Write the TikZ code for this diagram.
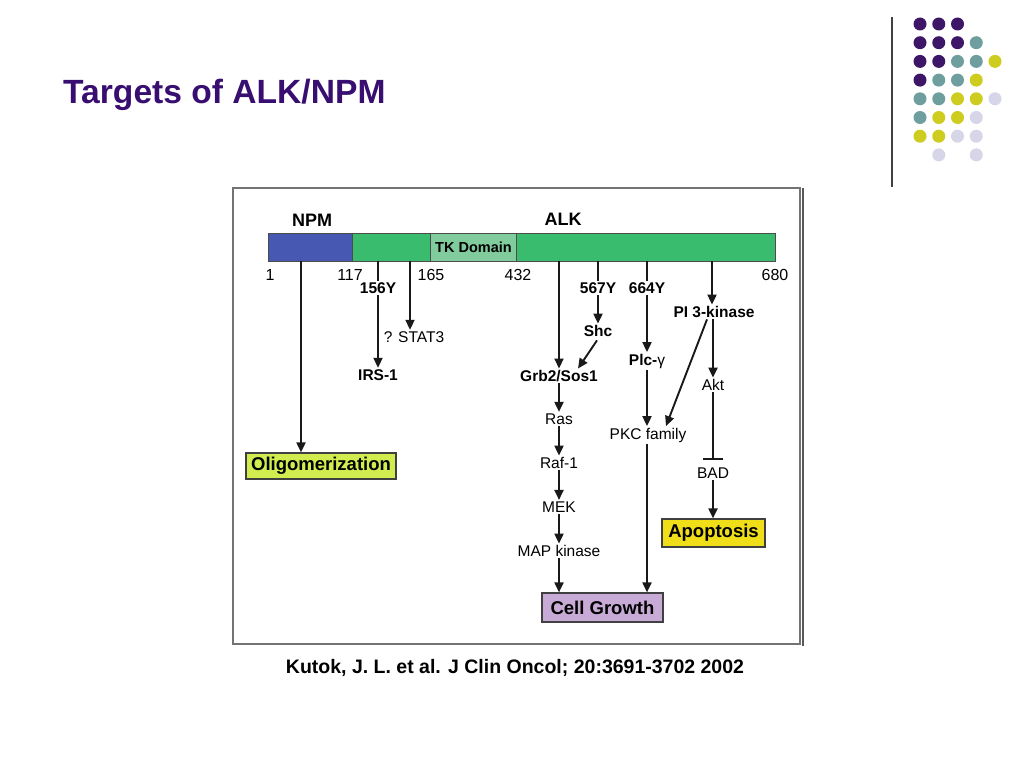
\documentclass[tikz,border=0pt]{standalone}
\usepackage{fontspec}
\setmainfont{Liberation Sans}
\usetikzlibrary{arrows.meta,calc}
\definecolor{titlepurple}{RGB}{56,14,112}
\definecolor{dotP}{RGB}{62,22,104}
\definecolor{dotT}{RGB}{110,158,158}
\definecolor{dotY}{RGB}{206,204,30}
\definecolor{dotL}{RGB}{214,214,232}
\definecolor{npmblue}{RGB}{70,88,178}
\definecolor{alkgreen}{RGB}{58,188,110}
\definecolor{tkgreen}{RGB}{128,204,156}
\definecolor{oligfill}{RGB}{208,236,78}
\definecolor{apopfill}{RGB}{240,222,24}
\definecolor{growfill}{RGB}{200,170,214}
\tikzset{
  lbl/.style={inner sep=1.5pt, font=\fontsize{15.5}{17}\selectfont\bfseries},
  reg/.style={inner sep=1.5pt, font=\fontsize{15.5}{17}\selectfont},
  num/.style={inner sep=0pt, anchor=base, font=\fontsize{16}{18}\selectfont},
  outcome/.style={draw=black!75, line width=1.2pt, inner sep=0pt, minimum height=26pt, font=\fontsize{18.5}{20}\selectfont\bfseries},
  arr/.style={-{Triangle[length=10pt,width=9pt]}, line width=1.9pt, black!90},
  ln/.style={line width=1.9pt, black!90},
  inh/.style={-{Bar[width=20pt,line width=1.9pt]}, line width=1.9pt, black!90},
  seg/.style={draw=black!70, line width=0.9pt, inner sep=0pt, minimum height=28pt, anchor=north west},
  dot/.style={circle, inner sep=0pt, minimum size=13pt},
}
\begin{document}
\begin{tikzpicture}[x=1pt,y=-1pt]
\useasboundingbox (0,0) rectangle (1024,768);
\fill[white] (0,0) rectangle (1024,768);

% title and decoration
\node[anchor=base west, inner sep=0pt, text=titlepurple, font=\fontsize{33.6}{36}\selectfont\bfseries] (title) at (63,103) {Targets of ALK/NPM};
\draw[line width=1.5pt, black!75] (892,17) -- (892,187);
\foreach \c/\r/\col in {0/0/dotP,1/0/dotP,2/0/dotP,
  0/1/dotP,1/1/dotP,2/1/dotP,3/1/dotT,
  0/2/dotP,1/2/dotP,2/2/dotT,3/2/dotT,4/2/dotY,
  0/3/dotP,1/3/dotT,2/3/dotT,3/3/dotY,
  0/4/dotT,1/4/dotT,2/4/dotY,3/4/dotY,4/4/dotL,
  0/5/dotT,1/5/dotY,2/5/dotY,3/5/dotL,
  0/6/dotY,1/6/dotY,2/6/dotL,3/6/dotL,
  1/7/dotL,3/7/dotL}
  \node[dot, fill=\col] (d\c\r) at ({920+18.75*\c},{24+18.7*\r}) {};

% figure frame
\draw[line width=1.3pt, black!55] (233,188) rectangle (800,644);
\draw[line width=1.1pt, black!65] (803,188) -- (803,646);

% protein bar
\node[lbl, font=\fontsize{18}{20}\selectfont\bfseries] (npmlbl) at (312,220) {NPM};
\node[lbl, font=\fontsize{18}{20}\selectfont\bfseries] (alklbl) at (563,219) {ALK};
\node[seg, fill=npmblue, minimum width=84pt] (npm) at (268,233) {};
\node[seg, fill=alkgreen, minimum width=423pt] (alk) at (352,233) {};
\node[seg, fill=tkgreen, minimum width=86pt, font=\fontsize{14.5}{16}\selectfont\bfseries] (tk) at (430,233) {TK Domain};

\node[num] (n1) at (270,280) {1};
\node[num] (n117) at (350,280) {117};
\node[num] (n165) at (431,280) {165};
\node[num] (n432) at (518,280) {432};
\node[num] (n680) at (775,280) {680};

% start points on the bar
\coordinate (s301) at (301,261);
\coordinate (s378) at (378,261);
\coordinate (s410) at (410,261);
\coordinate (s559) at (559,261);
\coordinate (s598) at (598,261);
\coordinate (s647) at (647,261);
\coordinate (s712) at (712,261);

% labels
\node[lbl] (y156) at (378,288) {156Y};
\node[lbl] (y567) at (598,288) {567Y};
\node[lbl] (y664) at (647,288) {664Y};
\node[reg] (stat) at (414,337) {? STAT3};
\node[lbl] (irs) at (378,375) {IRS-1};
\node[lbl] (shc) at (598,331) {Shc};
\node[lbl] (grb) at (559,376) {Grb2/Sos1};
\node[lbl] (plc) at (647,361) {Plc-{\mdseries γ}};
\node[lbl] (pi3k) at (714,312) {PI 3-kinase};
\node[reg] (akt) at (713,385) {Akt};
\node[reg] (ras) at (559,419) {Ras};
\node[reg] (raf) at (559,463) {Raf-1};
\node[reg] (mek) at (559,507) {MEK};
\node[reg] (map) at (559,551) {MAP kinase};
\node[reg] (pkc) at (648,435) {PKC family};
\node[reg] (bad) at (713,473) {BAD};

% outcome boxes
\node[outcome, fill=oligfill, minimum width=150pt] (olig) at (321,466) {Oligomerization};
\node[outcome, fill=growfill, minimum width=121pt, minimum height=29pt] (grow) at (602.5,607.5) {Cell Growth};
\node[outcome, fill=apopfill, minimum width=103pt, minimum height=28pt] (apop) at (713.5,533) {Apoptosis};

% connectors
\draw[arr] (s301) -- (s301 |- olig.north);
\draw[ln] (s378) -- (y156.north);
\draw[arr] (y156) -- (irs);
\draw[arr] (s410) -- (s410 |- stat.north);
\draw[arr] (s559) -- (grb);
\draw[ln] (s598) -- (y567.north);
\draw[arr] (y567) -- (shc);
\draw[arr] ([xshift=-1pt,yshift=-2pt]shc.south) -- ([xshift=19pt]grb.north);
\draw[ln] (s647) -- (y664.north);
\draw[arr] (y664) -- (plc);
\draw[arr] (plc.south) -- (plc.south |- pkc.north);
\draw[arr] (s712) -- (s712 |- pi3k.north);
\draw[arr] ([xshift=-7pt]pi3k.south) -- ([xshift=18pt]pkc.north);
\draw[arr] (pi3k.south -| akt) -- (akt);
\draw[inh, shorten >=6pt] (akt) -- (bad);
\draw[arr] (bad) -- (bad |- apop.north);
\draw[arr] (grb) -- (ras);
\draw[arr] (ras) -- (raf);
\draw[arr] (raf) -- (mek);
\draw[arr] (mek) -- (map);
\draw[arr] (map) -- (map |- grow.north);
\draw[arr] (pkc.south -| plc) -- (plc |- grow.north);

% citation
\node[anchor=base, inner sep=0pt, font=\fontsize{19.5}{22}\selectfont\bfseries] (cite) at (515,673) {Kutok, J. L. et al. J Clin Oncol; 20:3691-3702 2002};
\end{tikzpicture}
\end{document}
